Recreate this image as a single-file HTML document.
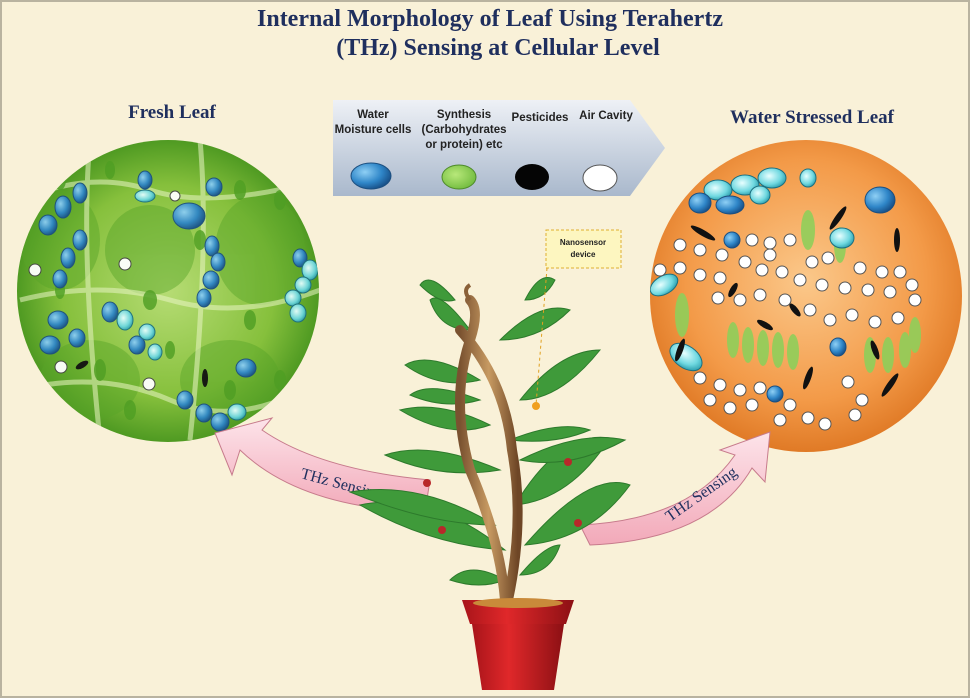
<!DOCTYPE html>
<html><head><meta charset="utf-8"><style>
html,body{margin:0;padding:0;background:#fff}
svg{display:block}
text{font-family:"Liberation Serif",serif}
.s{font-family:"Liberation Sans",sans-serif}
</style></head><body>
<svg width="970" height="698" viewBox="0 0 970 698" xmlns="http://www.w3.org/2000/svg">
<defs>
<radialGradient id="gL" cx="50%" cy="50%" r="50%"><stop offset="0" stop-color="#b6dc74"/><stop offset="0.7" stop-color="#86c03c"/><stop offset="1" stop-color="#4f9a22"/></radialGradient>
<radialGradient id="gR" cx="50%" cy="45%" r="55%"><stop offset="0" stop-color="#fbc88a"/><stop offset="0.7" stop-color="#f39a48"/><stop offset="1" stop-color="#e07a26"/></radialGradient>
<linearGradient id="gLeg" x1="0" y1="0" x2="0" y2="1"><stop offset="0" stop-color="#eef1f6"/><stop offset="1" stop-color="#a9b8cc"/></linearGradient>
<radialGradient id="gBlue" cx="35%" cy="35%" r="70%"><stop offset="0" stop-color="#8fd0f5"/><stop offset="0.6" stop-color="#2f86c8"/><stop offset="1" stop-color="#174e86"/></radialGradient>
<radialGradient id="gCyan" cx="40%" cy="40%" r="70%"><stop offset="0" stop-color="#e8ffff"/><stop offset="0.6" stop-color="#6fd8e0"/><stop offset="1" stop-color="#1b8fa0"/></radialGradient>
<radialGradient id="gGreen" cx="40%" cy="40%" r="70%"><stop offset="0" stop-color="#b8e87a"/><stop offset="1" stop-color="#6cb83a"/></radialGradient>
<linearGradient id="gPot" x1="0" y1="0" x2="1" y2="0"><stop offset="0" stop-color="#a8141a"/><stop offset="0.4" stop-color="#e0282a"/><stop offset="1" stop-color="#8c1014"/></linearGradient>
<linearGradient id="gArrow" x1="0" y1="0" x2="0" y2="1"><stop offset="0" stop-color="#fde4ea"/><stop offset="1" stop-color="#f2a9b9"/></linearGradient>
<linearGradient id="gStem" x1="0" y1="0" x2="1" y2="0"><stop offset="0" stop-color="#7a5230"/><stop offset="0.5" stop-color="#c79a62"/><stop offset="1" stop-color="#6e4626"/></linearGradient>
<clipPath id="cl"><circle cx="168" cy="291" r="151"/></clipPath>
<clipPath id="cr"><circle cx="806" cy="296" r="156"/></clipPath>
</defs>
<rect width="970" height="698" fill="#f9f1d8"/>
<rect x="1" y="1" width="968" height="696" fill="none" stroke="#b9b3a0" stroke-width="2"/>

<text x="490" y="26" text-anchor="middle" font-size="24" font-weight="bold" fill="#1f2f5e">Internal Morphology of Leaf Using Terahertz</text>
<text x="498" y="55" text-anchor="middle" font-size="24" font-weight="bold" fill="#1f2f5e">(THz) Sensing at Cellular Level</text>
<text x="172" y="118" text-anchor="middle" font-size="19" font-weight="bold" fill="#1f2f5e">Fresh Leaf</text>
<text x="812" y="123" text-anchor="middle" font-size="19" font-weight="bold" fill="#1f2f5e">Water Stressed Leaf</text>

<g>
<path d="M333 100 H630 L665 148 L630 196 H333 Z" fill="url(#gLeg)"/>
<text class="s" x="373" y="118" text-anchor="middle" font-size="11.5" font-weight="bold" fill="#222">Water</text>
<text class="s" x="373" y="133" text-anchor="middle" font-size="11.5" font-weight="bold" fill="#222">Moisture cells</text>
<text class="s" x="464" y="118" text-anchor="middle" font-size="11.5" font-weight="bold" fill="#222">Synthesis</text>
<text class="s" x="464" y="133" text-anchor="middle" font-size="11.5" font-weight="bold" fill="#222">(Carbohydrates</text>
<text class="s" x="464" y="148" text-anchor="middle" font-size="11.5" font-weight="bold" fill="#222">or protein) etc</text>
<text class="s" x="540" y="121" text-anchor="middle" font-size="11.5" font-weight="bold" fill="#222">Pesticides</text>
<text class="s" x="606" y="119" text-anchor="middle" font-size="11.5" font-weight="bold" fill="#222">Air Cavity</text>
<ellipse cx="371" cy="176" rx="20" ry="13" fill="url(#gBlue)" stroke="#1c4f80"/>
<ellipse cx="459" cy="177" rx="17" ry="12" fill="url(#gGreen)" stroke="#4d8a2a"/>
<ellipse cx="532" cy="177" rx="17" ry="13" fill="#050505"/>
<ellipse cx="600" cy="178" rx="17" ry="13" fill="#fff" stroke="#555"/>
</g>

<g>
<circle cx="168" cy="291" r="151" fill="url(#gL)"/>
<g clip-path="url(#cl)" opacity="0.95">
<g fill="#5aa52a" opacity="0.5"><ellipse cx="60" cy="240" rx="40" ry="50"/><ellipse cx="150" cy="250" rx="45" ry="45"/><ellipse cx="260" cy="250" rx="45" ry="55"/><ellipse cx="90" cy="380" rx="50" ry="40"/><ellipse cx="230" cy="380" rx="50" ry="40"/></g>
<path d="M20 200 Q90 170 150 190 T320 180 M20 300 Q100 280 170 300 T320 290 M20 390 Q100 370 170 400 T320 380 M90 140 Q80 250 100 440 M200 140 Q210 250 190 440" stroke="#e6f4c0" stroke-width="5" fill="none" opacity="0.6"/>
<g fill="#4f9e24" opacity="0.85">
<ellipse cx="60" cy="180" rx="6" ry="10"/><ellipse cx="110" cy="170" rx="5" ry="9"/><ellipse cx="240" cy="190" rx="6" ry="10"/><ellipse cx="280" cy="200" rx="6" ry="10"/><ellipse cx="150" cy="300" rx="7" ry="10"/><ellipse cx="250" cy="320" rx="6" ry="10"/><ellipse cx="100" cy="370" rx="6" ry="11"/><ellipse cx="230" cy="390" rx="6" ry="10"/><ellipse cx="60" cy="290" rx="5" ry="9"/><ellipse cx="200" cy="240" rx="6" ry="10"/><ellipse cx="130" cy="410" rx="6" ry="10"/><ellipse cx="280" cy="380" rx="6" ry="10"/><ellipse cx="170" cy="350" rx="5" ry="9"/>
</g>
<g fill="url(#gBlue)" stroke="#1c4f80">
<ellipse cx="145" cy="180" rx="7" ry="9"/><ellipse cx="214" cy="187" rx="8" ry="9"/><ellipse cx="189" cy="216" rx="16" ry="13"/><ellipse cx="80" cy="193" rx="7" ry="10"/><ellipse cx="63" cy="207" rx="8" ry="11"/><ellipse cx="48" cy="225" rx="9" ry="10"/><ellipse cx="80" cy="240" rx="7" ry="10"/><ellipse cx="68" cy="258" rx="7" ry="10"/><ellipse cx="60" cy="279" rx="7" ry="9"/><ellipse cx="212" cy="246" rx="7" ry="10"/><ellipse cx="218" cy="262" rx="7" ry="9"/><ellipse cx="211" cy="280" rx="8" ry="9"/><ellipse cx="204" cy="298" rx="7" ry="9"/><ellipse cx="110" cy="312" rx="8" ry="10"/><ellipse cx="58" cy="320" rx="10" ry="9"/><ellipse cx="50" cy="345" rx="10" ry="9"/><ellipse cx="77" cy="338" rx="8" ry="9"/><ellipse cx="137" cy="345" rx="8" ry="9"/><ellipse cx="246" cy="368" rx="10" ry="9"/><ellipse cx="185" cy="400" rx="8" ry="9"/><ellipse cx="204" cy="413" rx="8" ry="9"/><ellipse cx="220" cy="422" rx="9" ry="9"/><ellipse cx="300" cy="258" rx="7" ry="9"/>
</g>
<g fill="url(#gCyan)" stroke="#1c6f80">
<ellipse cx="145" cy="196" rx="10" ry="6"/><ellipse cx="125" cy="320" rx="8" ry="10"/><ellipse cx="147" cy="332" rx="8" ry="8"/><ellipse cx="155" cy="352" rx="7" ry="8"/><ellipse cx="310" cy="270" rx="8" ry="10"/><ellipse cx="303" cy="285" rx="8" ry="8"/><ellipse cx="293" cy="298" rx="8" ry="8"/><ellipse cx="298" cy="313" rx="8" ry="9"/><ellipse cx="237" cy="412" rx="9" ry="8"/>
</g>
<g fill="#fff" stroke="#444"><circle cx="175" cy="196" r="5"/><circle cx="35" cy="270" r="6"/><circle cx="125" cy="264" r="6"/><circle cx="61" cy="367" r="6"/><circle cx="149" cy="384" r="6"/></g>
<g fill="#111"><ellipse cx="82" cy="365" rx="7" ry="3" transform="rotate(-30 82 365)"/><ellipse cx="205" cy="378" rx="3" ry="9"/></g>
</g>
</g>

<g>
<circle cx="806" cy="296" r="156" fill="url(#gR)"/>
<g clip-path="url(#cr)">
<g fill="#8fcf5a" opacity="0.9">
<ellipse cx="808" cy="230" rx="7" ry="20"/><ellipse cx="840" cy="245" rx="6" ry="18"/><ellipse cx="682" cy="315" rx="7" ry="22"/><ellipse cx="733" cy="340" rx="6" ry="18"/><ellipse cx="748" cy="345" rx="6" ry="18"/><ellipse cx="763" cy="348" rx="6" ry="18"/><ellipse cx="778" cy="350" rx="6" ry="18"/><ellipse cx="793" cy="352" rx="6" ry="18"/><ellipse cx="870" cy="355" rx="6" ry="18"/><ellipse cx="888" cy="355" rx="6" ry="18"/><ellipse cx="905" cy="350" rx="6" ry="18"/><ellipse cx="915" cy="335" rx="6" ry="18"/>
</g>
<g fill="url(#gCyan)" stroke="#1c6f80">
<ellipse cx="718" cy="190" rx="14" ry="10"/><ellipse cx="745" cy="185" rx="14" ry="10"/><ellipse cx="772" cy="178" rx="14" ry="10"/><ellipse cx="760" cy="195" rx="10" ry="9"/><ellipse cx="842" cy="238" rx="12" ry="10"/><ellipse cx="664" cy="285" rx="15" ry="9" transform="rotate(-30 664 285)"/><ellipse cx="686" cy="357" rx="18" ry="11" transform="rotate(35 686 357)"/><ellipse cx="808" cy="178" rx="8" ry="9"/>
</g>
<g fill="url(#gBlue)" stroke="#1c4f80">
<ellipse cx="700" cy="203" rx="11" ry="10"/><ellipse cx="730" cy="205" rx="14" ry="9"/><ellipse cx="880" cy="200" rx="15" ry="13"/><ellipse cx="732" cy="240" rx="8" ry="8"/><ellipse cx="838" cy="347" rx="8" ry="9"/><ellipse cx="775" cy="394" rx="8" ry="8"/>
</g>
<g fill="#111">
<ellipse cx="838" cy="218" rx="3" ry="14" transform="rotate(35 838 218)"/><ellipse cx="703" cy="233" rx="3" ry="14" transform="rotate(-60 703 233)"/><ellipse cx="897" cy="240" rx="3" ry="12"/><ellipse cx="733" cy="290" rx="3" ry="8" transform="rotate(30 733 290)"/><ellipse cx="795" cy="310" rx="3" ry="8" transform="rotate(-40 795 310)"/><ellipse cx="765" cy="325" rx="3" ry="9" transform="rotate(-60 765 325)"/><ellipse cx="680" cy="350" rx="3" ry="12" transform="rotate(20 680 350)"/><ellipse cx="808" cy="378" rx="3" ry="12" transform="rotate(20 808 378)"/><ellipse cx="890" cy="385" rx="3" ry="14" transform="rotate(35 890 385)"/><ellipse cx="875" cy="350" rx="3" ry="10" transform="rotate(-20 875 350)"/>
</g>
<g fill="#fff" stroke="#555">
<circle cx="680" cy="245" r="6"/><circle cx="700" cy="250" r="6"/><circle cx="722" cy="255" r="6"/><circle cx="752" cy="240" r="6"/><circle cx="770" cy="243" r="6"/><circle cx="790" cy="240" r="6"/><circle cx="812" cy="262" r="6"/><circle cx="828" cy="258" r="6"/><circle cx="860" cy="268" r="6"/><circle cx="882" cy="272" r="6"/><circle cx="900" cy="272" r="6"/><circle cx="660" cy="270" r="6"/><circle cx="680" cy="268" r="6"/><circle cx="700" cy="275" r="6"/><circle cx="720" cy="278" r="6"/><circle cx="745" cy="262" r="6"/><circle cx="762" cy="270" r="6"/><circle cx="782" cy="272" r="6"/><circle cx="800" cy="280" r="6"/><circle cx="822" cy="285" r="6"/><circle cx="845" cy="288" r="6"/><circle cx="868" cy="290" r="6"/><circle cx="890" cy="292" r="6"/><circle cx="915" cy="300" r="6"/><circle cx="718" cy="298" r="6"/><circle cx="740" cy="300" r="6"/><circle cx="760" cy="295" r="6"/><circle cx="785" cy="300" r="6"/><circle cx="810" cy="310" r="6"/><circle cx="830" cy="320" r="6"/><circle cx="852" cy="315" r="6"/><circle cx="875" cy="322" r="6"/><circle cx="898" cy="318" r="6"/><circle cx="700" cy="378" r="6"/><circle cx="720" cy="385" r="6"/><circle cx="740" cy="390" r="6"/><circle cx="760" cy="388" r="6"/><circle cx="710" cy="400" r="6"/><circle cx="730" cy="408" r="6"/><circle cx="752" cy="405" r="6"/><circle cx="790" cy="405" r="6"/><circle cx="808" cy="418" r="6"/><circle cx="825" cy="424" r="6"/><circle cx="848" cy="382" r="6"/><circle cx="862" cy="400" r="6"/><circle cx="855" cy="415" r="6"/><circle cx="780" cy="420" r="6"/><circle cx="770" cy="255" r="6"/><circle cx="912" cy="285" r="6"/>
</g>
</g>
</g>

<g>
<path d="M215 433 L272 418 L262 430 Q320 470 430 480 L425 512 Q300 508 240 450 L232 475 Z" fill="url(#gArrow)" stroke="#c77b8c"/>
<text x="300" y="478" font-size="16" fill="#1f2f5e" transform="rotate(15 300 478)">THz Sensing</text>
</g>
<g>
<path d="M580 525 Q690 520 735 455 L720 450 L770 432 L765 482 L752 468 Q710 540 590 545 Z" fill="url(#gArrow)" stroke="#c77b8c"/>
<text x="670" y="522" font-size="16" fill="#1f2f5e" transform="rotate(-35 670 522)">THz Sensing</text>
</g>

<g>
<g fill="#3f9a3a" stroke="#2d7a2c" stroke-width="1">
<path d="M505 550 Q430 490 360 505 Q430 545 505 550Z"/>
<path d="M495 525 Q420 480 350 492 Q430 525 495 525Z"/>
<path d="M525 545 Q590 470 630 485 Q590 540 525 545Z"/>
<path d="M515 505 Q560 430 610 438 Q570 500 515 505Z"/>
<path d="M500 470 Q430 440 385 455 Q440 480 500 470Z"/>
<path d="M490 425 Q440 400 400 410 Q450 440 490 425Z"/>
<path d="M520 400 Q560 350 600 350 Q560 400 520 400Z"/>
<path d="M520 460 Q580 430 625 440 Q570 470 520 460Z"/>
<path d="M480 380 Q430 350 405 365 Q440 390 480 380Z"/>
<path d="M500 340 Q540 300 570 310 Q540 340 500 340Z"/>
<path d="M470 330 Q440 290 430 300 Q440 330 470 330Z"/>
<path d="M525 300 Q540 270 555 280 Q545 300 525 300Z"/>
<path d="M455 300 Q430 270 420 285 Q440 305 455 300Z"/>
<path d="M505 580 Q470 560 450 580 Q480 590 505 580Z"/>
<path d="M510 440 Q560 420 590 430 Q555 445 510 440Z"/>
<path d="M480 400 Q430 380 410 395 Q445 410 480 400Z"/>
<path d="M520 575 Q545 545 560 545 Q550 575 520 575Z"/>
</g>
<path d="M505 600 Q500 540 470 470 Q450 400 470 340 Q480 310 470 300 M508 600 Q525 520 512 450 Q505 380 460 330" stroke="url(#gStem)" stroke-width="10" fill="none" stroke-linecap="round"/>
<path d="M470 300 Q462 290 470 285" stroke="#8a6038" stroke-width="4" fill="none"/>
<g fill="#b8282a"><circle cx="427" cy="483" r="4"/><circle cx="442" cy="530" r="4"/><circle cx="568" cy="462" r="4"/><circle cx="578" cy="523" r="4"/></g>
<path d="M462 600 H574 L566 624 H470 Z" fill="url(#gPot)"/>
<path d="M472 624 H564 L554 690 H482 Z" fill="url(#gPot)"/>
<ellipse cx="518" cy="603" rx="45" ry="5" fill="#c98a3a"/>
</g>

<g>
<line x1="547" y1="268" x2="536" y2="405" stroke="#e0a020" stroke-dasharray="3,3"/>
<rect x="546" y="230" width="75" height="38" fill="#fdf6c0" stroke="#e0b030" stroke-dasharray="3,2"/>
<text class="s" x="583" y="245" text-anchor="middle" font-size="8" font-weight="bold" fill="#222">Nanosensor</text>
<text class="s" x="583" y="257" text-anchor="middle" font-size="8" font-weight="bold" fill="#222">device</text>
<circle cx="536" cy="406" r="4" fill="#f0a020"/>
</g>
</svg>
</body></html>
